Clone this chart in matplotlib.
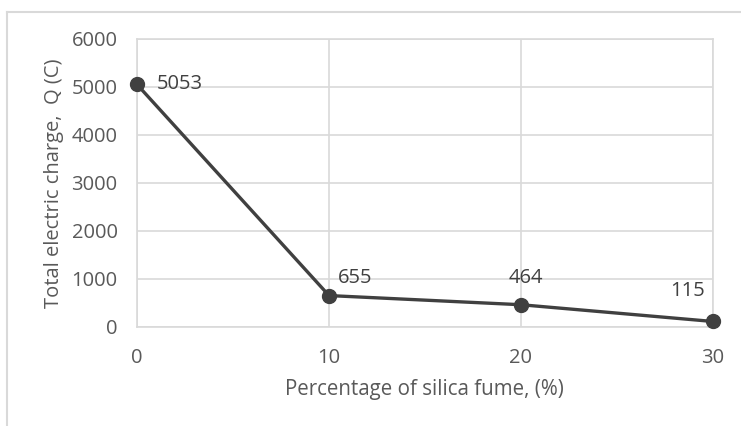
import matplotlib
matplotlib.use("Agg")
import matplotlib.pyplot as plt
from matplotlib.lines import Line2D

silica_pct = [0, 10, 20, 30]
charge = [5053, 655, 464, 115]
x_ticks = [0, 10, 20, 30]
y_ticks = [0, 1000, 2000, 3000, 4000, 5000, 6000]

plt.rcParams['font.family'] = ['Open Sans', 'DejaVu Sans']
text_col = '#595959'
grid_col = '#d9d9d9'
line_col = '#404040'

W, H = 741, 426
fig = plt.figure(figsize=(W / 100, H / 100), dpi=100)
fig.patch.set_facecolor('white')

# outer chart frame (left and top edges visible)
fig.add_artist(Line2D([7 / W, 7 / W], [0, 1 - 12 / H], transform=fig.transFigure,
                      color='#d9d9d9', lw=1.5))
fig.add_artist(Line2D([7 / W, 1], [1 - 12 / H, 1 - 12 / H], transform=fig.transFigure,
                      color='#d9d9d9', lw=1.5))

left, right, top, bottom = 137, 713, 39, 327
ax = fig.add_axes([left / W, 1 - bottom / H, (right - left) / W, (bottom - top) / H])
ax.set_xlim(0, 30)
ax.set_ylim(0, 6000)
ax.set_xticks(x_ticks)
ax.set_yticks(y_ticks)
ax.grid(True, color=grid_col, lw=1.2)
ax.set_axisbelow(True)
for s in ax.spines.values():
    s.set_color(grid_col)
    s.set_linewidth(1.2)
ax.tick_params(length=0, colors=text_col, labelsize=14.5)
ax.tick_params(axis='x', pad=15)
ax.tick_params(axis='y', pad=14)

ax.plot(silica_pct, charge, color=line_col, lw=2.4, marker='o', ms=10,
        clip_on=False, zorder=3)

offsets = [(14.4, 0, 'left'),
           (6.5, 13, 'left'),
           (3.6, 19.4, 'center'),
           (-5.8, 21.6, 'right')]
for x, y, (dx, dy, ha) in zip(silica_pct, charge, offsets):
    ax.annotate(f"{y}", (x, y), xytext=(dx, dy), textcoords='offset points',
                ha=ha, va='center', color='#404040', fontsize=14.5)

ax.set_xlabel("Percentage of silica fume, (%)", color=text_col, fontsize=14.8)
ax.xaxis.label.set_va('center')
ax.xaxis.set_label_coords((424 - left) / (right - left), (bottom - 390) / (bottom - top))
ax.set_ylabel("Total electric charge,  Q (C)", color=text_col, fontsize=14.5)
ax.yaxis.label.set_va('center')
ax.yaxis.set_label_coords((54 - left) / (right - left), 0.5)

fig.savefig("out.png", dpi=100, facecolor='white')
